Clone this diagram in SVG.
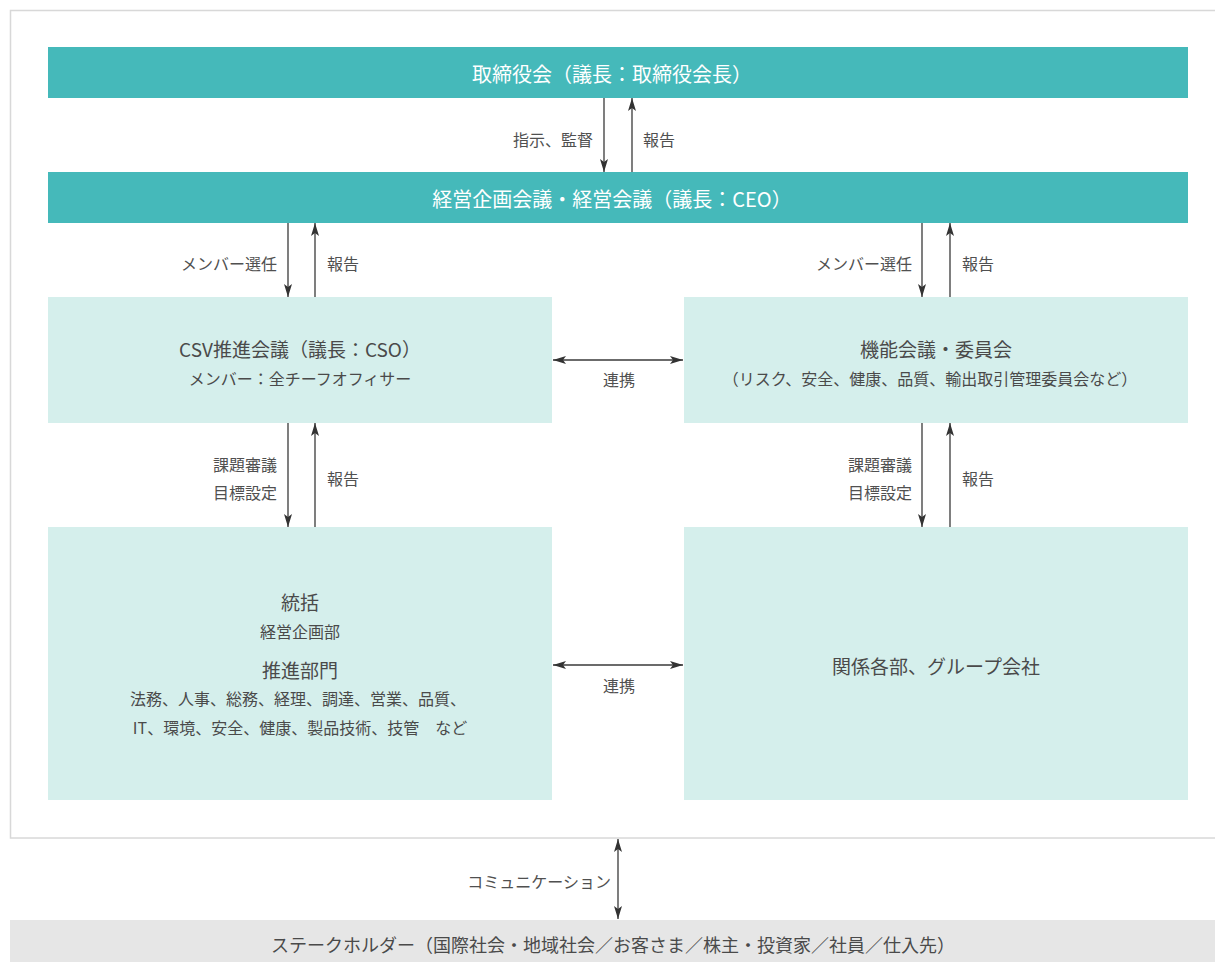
<svg xmlns="http://www.w3.org/2000/svg" width="1215" height="962" viewBox="0 0 1215 962">
<style>
text{font-family:"Noto Sans CJK JP","Noto Sans",sans-serif;dominant-baseline:central}
.bar{fill:#45b9ba}
.box{fill:#d5efec}
.bt{fill:#ffffff;font-size:20px;text-anchor:middle}
.t1{fill:#4a4a4a;font-size:19px;text-anchor:middle}
.t2{fill:#4a4a4a;font-size:16px;text-anchor:middle}
.lb{fill:#505050;font-size:16px}
.end{text-anchor:end}
.mid{text-anchor:middle}
.ar{stroke:#3a3a3a;stroke-width:1.3;fill:none;marker-end:url(#ah)}
.dbl{stroke:#3a3a3a;stroke-width:1.3;fill:none;marker-end:url(#ah);marker-start:url(#ah)}
</style>
<defs>
<marker id="ah" markerUnits="userSpaceOnUse" viewBox="0 -5 14 10" refX="13" refY="0" markerWidth="14" markerHeight="10" orient="auto-start-reverse">
<path d="M0,-4 L13,0 L0,4 L3,0 Z" fill="#333"/>
</marker>
</defs>
<rect id="frame" x="10.5" y="10.5" width="1220" height="827.5" fill="#ffffff" stroke="#d8d8d8" stroke-width="1.5"/>
<g id="board">
<rect class="bar" x="48" y="47" width="1140" height="51"/>
<text class="bt" x="612" y="73">取締役会（議長：取締役会長）</text>
</g>
<g id="management">
<rect class="bar" x="48" y="172" width="1140" height="51"/>
<text class="bt" x="612" y="198">経営企画会議・経営会議（議長：CEO）</text>
</g>
<g id="csv">
<rect class="box" x="48" y="297" width="504" height="126"/>
<text class="t1" x="300" y="348">CSV推進会議（議長：CSO）</text>
<text class="t2" x="300" y="378">メンバー：全チーフオフィサー</text>
</g>
<g id="functional">
<rect class="box" x="684" y="297" width="504" height="126"/>
<text class="t1" x="936" y="348">機能会議・委員会</text>
<text class="t2" x="930" y="378">（リスク、安全、健康、品質、輸出取引管理委員会など）</text>
</g>
<g id="promotion">
<rect class="box" x="48" y="527" width="504" height="273"/>
<text class="t1" x="300" y="601">統括</text>
<text class="t2" x="300" y="631">経営企画部</text>
<text class="t1" x="300" y="669">推進部門</text>
<text class="t2" x="298" y="698">法務、人事、総務、経理、調達、営業、品質、</text>
<text class="t2" x="300" y="727">IT、環境、安全、健康、製品技術、技管　など</text>
</g>
<g id="related">
<rect class="box" x="684" y="527" width="504" height="273"/>
<text class="t1" x="936" y="665">関係各部、グループ会社</text>
</g>
<g id="stakeholders">
<rect x="10" y="920" width="1215" height="45" fill="#e6e6e6"/>
<text x="613" y="944" style="fill:#4a4a4a;font-size:18px;text-anchor:middle">ステークホルダー（国際社会・地域社会／お客さま／株主・投資家／社員／仕入先）</text>
</g>
<g id="connectors">
<line class="ar" x1="604" y1="98" x2="604" y2="172"/>
<line class="ar" x1="632" y1="172" x2="632" y2="98"/>
<line class="ar" x1="288" y1="223" x2="288" y2="297"/>
<line class="ar" x1="315" y1="297" x2="315" y2="223"/>
<line class="ar" x1="922" y1="223" x2="922" y2="297"/>
<line class="ar" x1="950" y1="297" x2="950" y2="223"/>
<line class="ar" x1="288" y1="423" x2="288" y2="527"/>
<line class="ar" x1="315" y1="527" x2="315" y2="423"/>
<line class="ar" x1="922" y1="423" x2="922" y2="527"/>
<line class="ar" x1="950" y1="527" x2="950" y2="423"/>
<line class="dbl" x1="553" y1="360" x2="683" y2="360"/>
<line class="dbl" x1="553" y1="665" x2="683" y2="665"/>
<line class="dbl" x1="618" y1="839" x2="618" y2="919"/>
<text class="lb end" x="593" y="139">指示、監督</text>
<text class="lb" x="643" y="139">報告</text>
<text class="lb end" x="277" y="263">メンバー選任</text>
<text class="lb" x="327" y="263">報告</text>
<text class="lb end" x="912" y="263">メンバー選任</text>
<text class="lb" x="962" y="263">報告</text>
<text class="lb end" x="277" y="464">課題審議</text>
<text class="lb end" x="277" y="492">目標設定</text>
<text class="lb" x="327" y="478">報告</text>
<text class="lb end" x="912" y="464">課題審議</text>
<text class="lb end" x="912" y="492">目標設定</text>
<text class="lb" x="962" y="478">報告</text>
<text class="lb mid" x="619" y="379">連携</text>
<text class="lb mid" x="619" y="685">連携</text>
<text class="lb end" x="611" y="881">コミュニケーション</text>
</g>
</svg>
